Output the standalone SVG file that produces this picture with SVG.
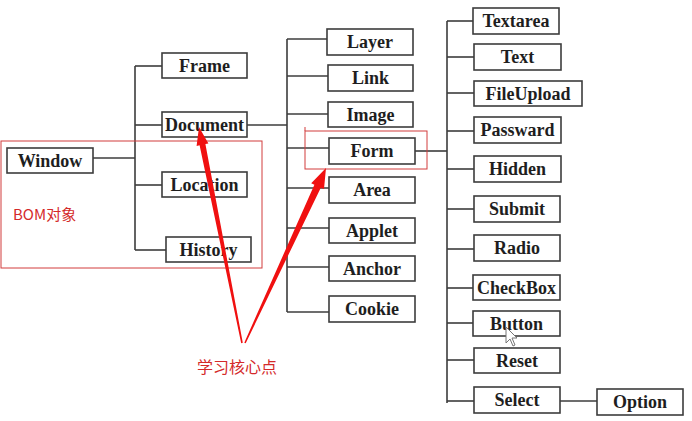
<svg xmlns="http://www.w3.org/2000/svg" width="692" height="421" viewBox="0 0 692 421">
<style>
.b rect{fill:#fff;stroke:#3c3c3c;stroke-width:1.6}
.b text{font-family:'Liberation Serif','DejaVu Serif',serif;font-weight:bold;font-size:18px;fill:#1e1e1e;text-anchor:middle}
.c line{stroke:#3c3c3c;stroke-width:1.6}
.r{fill:none;stroke:#d23c3c;stroke-width:1}
.rt{font-family:'Noto Sans CJK SC','Noto Sans',sans-serif;fill:#d42a2a}
.ar{fill:#f01010}
</style>
<rect width="692" height="421" fill="#fff"/>
<g class="c" id="connectors">
<line x1="93" y1="158" x2="135" y2="158"/>
<line x1="135" y1="66" x2="135" y2="250"/>
<line x1="135" y1="66" x2="162" y2="66"/>
<line x1="135" y1="125" x2="162" y2="125"/>
<line x1="135" y1="185" x2="162" y2="185"/>
<line x1="135" y1="250" x2="166" y2="250"/>
<line x1="247" y1="125" x2="287" y2="125"/>
<line x1="287" y1="39" x2="287" y2="312"/>
<line x1="287" y1="39" x2="327" y2="39"/>
<line x1="287" y1="76" x2="328" y2="76"/>
<line x1="287" y1="114" x2="328" y2="114"/>
<line x1="287" y1="148" x2="329" y2="148"/>
<line x1="287" y1="188" x2="329" y2="188"/>
<line x1="287" y1="228" x2="329" y2="228"/>
<line x1="287" y1="267" x2="329" y2="267"/>
<line x1="287" y1="312" x2="329" y2="312"/>
<line x1="415" y1="151" x2="447" y2="151"/>
<line x1="447" y1="21" x2="447" y2="403"/>
<line x1="447" y1="21" x2="473" y2="21"/>
<line x1="447" y1="57" x2="474" y2="57"/>
<line x1="447" y1="93" x2="474" y2="93"/>
<line x1="447" y1="131" x2="474" y2="131"/>
<line x1="447" y1="169" x2="474" y2="169"/>
<line x1="447" y1="209" x2="474" y2="209"/>
<line x1="447" y1="249" x2="474" y2="249"/>
<line x1="447" y1="288" x2="473" y2="288"/>
<line x1="447" y1="323" x2="473" y2="323"/>
<line x1="447" y1="360" x2="474" y2="360"/>
<line x1="447" y1="401" x2="474" y2="401"/>
<line x1="560" y1="401" x2="597" y2="401"/>
</g>
<g class="b">
<g id="window"><rect x="7" y="148" width="86" height="25"/><text x="50" y="166.5">Window</text></g>
<g id="frame"><rect x="162" y="53" width="85" height="25"/><text x="204.5" y="71.5">Frame</text></g>
<g id="document"><rect x="162" y="112" width="85" height="25"/><text x="204.5" y="130.5">Document</text></g>
<g id="location"><rect x="162" y="172" width="85" height="25"/><text x="204.5" y="190.5">Location</text></g>
<g id="history"><rect x="166" y="237" width="85" height="25"/><text x="208.5" y="255.5">History</text></g>
<g id="layer"><rect x="327" y="29" width="86" height="26"/><text x="370" y="48">Layer</text></g>
<g id="link"><rect x="328" y="65" width="85" height="26"/><text x="370.5" y="84">Link</text></g>
<g id="image"><rect x="328" y="102" width="85" height="25"/><text x="370.5" y="120.5">Image</text></g>
<g id="form"><rect x="329" y="138" width="86" height="26"/><text x="372" y="157">Form</text></g>
<g id="area"><rect x="329" y="177" width="86" height="26"/><text x="372" y="196">Area</text></g>
<g id="applet"><rect x="329" y="218" width="86" height="25"/><text x="372" y="236.5">Applet</text></g>
<g id="anchor"><rect x="329" y="256" width="86" height="25"/><text x="372" y="274.5">Anchor</text></g>
<g id="cookie"><rect x="329" y="296" width="86" height="26"/><text x="372" y="315">Cookie</text></g>
<g id="textarea"><rect x="473" y="8" width="86" height="26"/><text x="516" y="27">Textarea</text></g>
<g id="text"><rect x="474" y="44" width="87" height="26"/><text x="517.5" y="63">Text</text></g>
<g id="fileupload"><rect x="474" y="81" width="108" height="25"/><text x="528" y="99.5">FileUpload</text></g>
<g id="passward"><rect x="474" y="117" width="87" height="26"/><text x="517.5" y="136">Passward</text></g>
<g id="hidden"><rect x="474" y="156" width="87" height="26"/><text x="517.5" y="175">Hidden</text></g>
<g id="submit"><rect x="474" y="196" width="86" height="26"/><text x="517" y="215">Submit</text></g>
<g id="radio"><rect x="474" y="235" width="86" height="26"/><text x="517" y="254">Radio</text></g>
<g id="checkbox"><rect x="473" y="275" width="87" height="25"/><text x="516.5" y="293.5">CheckBox</text></g>
<g id="button"><rect x="473" y="311" width="87" height="25"/><text x="516.5" y="329.5">Button</text></g>
<g id="reset"><rect x="474" y="348" width="86" height="25"/><text x="517" y="366.5">Reset</text></g>
<g id="select"><rect x="474" y="387" width="86" height="26"/><text x="517" y="406">Select</text></g>
<g id="option"><rect x="597" y="389" width="86" height="26"/><text x="640" y="408">Option</text></g>
</g>
<rect class="r" x="1" y="141" width="261" height="127"/>
<rect class="r" x="305" y="131" width="122" height="38"/>
<line class="r" x1="305" y1="127" x2="305" y2="131"/>
<text class="rt" x="13" y="220" font-size="15">BOM对象</text>
<text class="rt" x="197" y="373" font-size="16">学习核心点</text>
<g id="arrows">
<polygon class="ar" points="242.8,342.8 241.2,343.2 199.6,145.3 196.6,145.9 199,127 208.4,143.5 205.4,144.1"/>
<polygon class="ar" points="245.7,343.3 244.3,342.7 314.4,184.7 311.2,183.3 326,168 324.0,189.1 320.8,187.7"/>
</g>
<polygon points="506,327 506,343 510,339 513,346 515,345 512,338 517,338" fill="#fff" stroke="#777" stroke-width="1"/>
</svg>
